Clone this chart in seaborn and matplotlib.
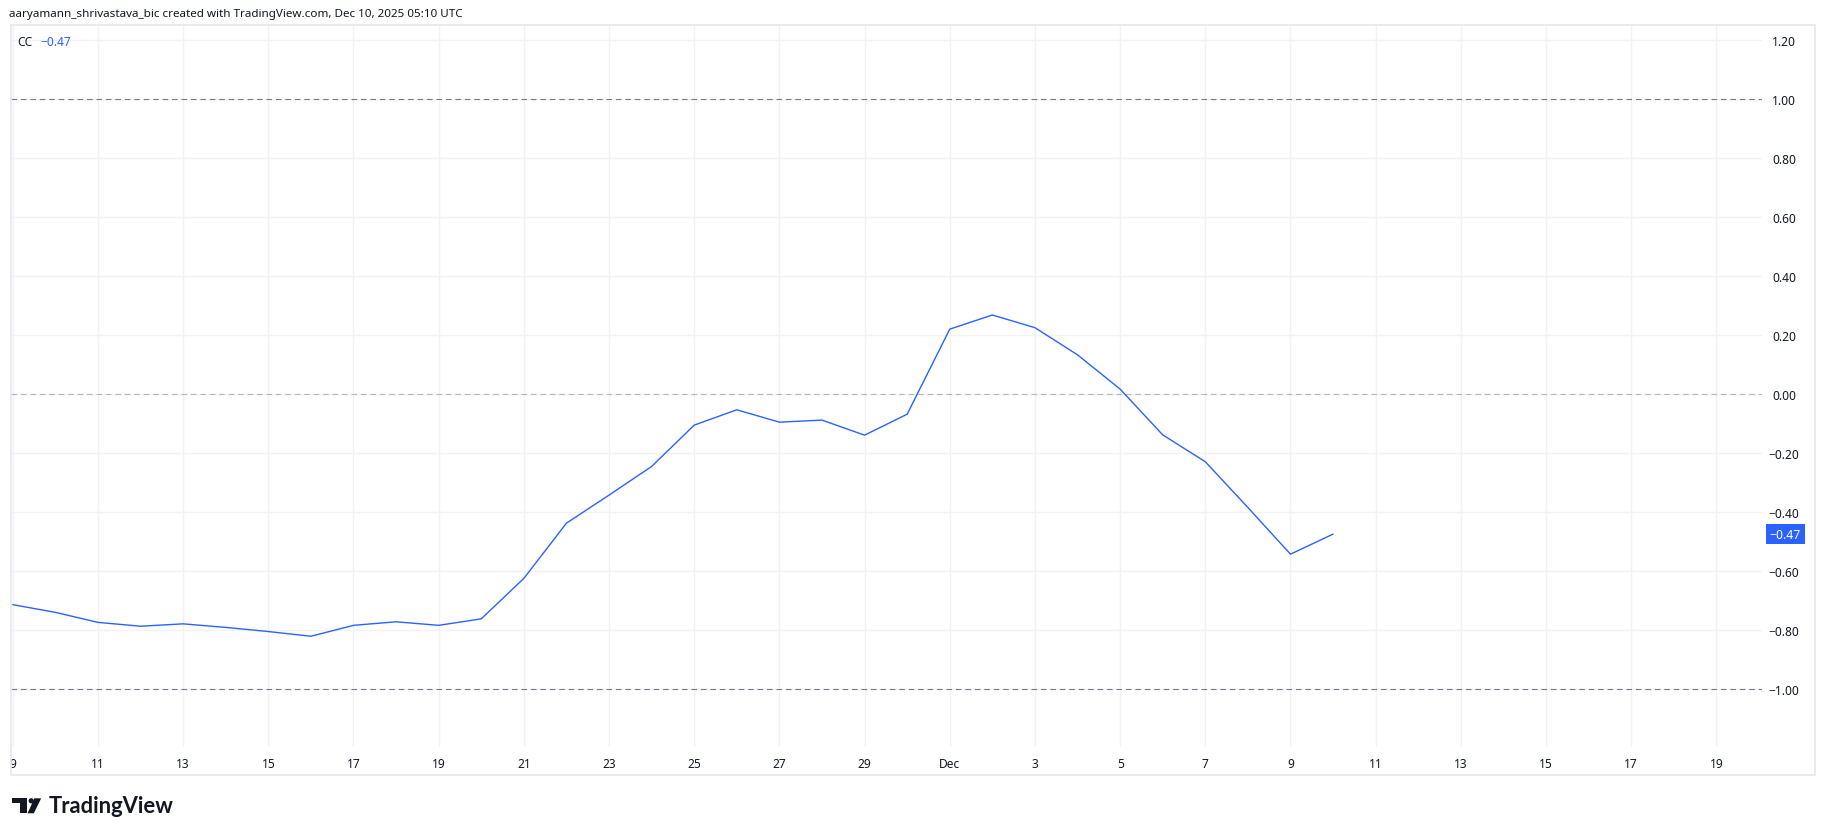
import matplotlib
matplotlib.use("Agg")
import matplotlib.pyplot as plt
import matplotlib.dates as mdates
from matplotlib.ticker import FuncFormatter
from matplotlib.patches import Rectangle, Polygon, Circle
from matplotlib.transforms import Bbox, TransformedBbox, blended_transform_factory
import pandas as pd
import seaborn as sns

# daily CC readings, Nov 9 -> Dec 10 2025
dates = pd.date_range("2025-11-09", "2025-12-10", freq="D")
cc = [-0.713, -0.739, -0.773, -0.786, -0.778, -0.790, -0.804, -0.820,
      -0.783, -0.771, -0.783, -0.761, -0.624, -0.437, -0.342, -0.245,
      -0.105, -0.053, -0.095, -0.088, -0.139, -0.068,
      0.220, 0.268, 0.225, 0.133, 0.017, -0.138, -0.229, -0.384, -0.542, -0.474]
ytick_vals = [-1.0, -0.8, -0.6, -0.4, -0.2, 0.0, 0.2, 0.4, 0.6, 0.8, 1.0, 1.2]
xtick_dates = ([pd.Timestamp(2025, 11, d) for d in range(9, 30, 2)] +
               [pd.Timestamp(2025, 12, d) for d in range(1, 20, 2)])
level_lines = [1.0, 0.0, -1.0]
header = "aaryamann_shrivastava_bic created with TradingView.com, Dec 10, 2025 05:10 UTC"

BLUE = "#2962FF"
GRID = "#f0f2f6"
TXT = "#131722"

sns.set_theme(style="white")
plt.rcParams['font.family'] = ['Noto Sans', 'DejaVu Sans']
plt.rcParams['lines.scale_dashes'] = False

W, H = 1825, 837
fig = plt.figure(figsize=(W / 100, H / 100), dpi=100)
fig.patch.set_facecolor("white")

ax = fig.add_axes([11 / W, 1 - 748 / H, (1762 - 11) / W, (748 - 26) / H])
df = pd.DataFrame({"date": dates, "cc": cc})
sns.lineplot(data=df, x="date", y="cc", ax=ax, color=BLUE, linewidth=1.0, zorder=5)

for lv in level_lines:
    col = "#b2b5be" if lv == 0 else "#787b86"
    ax.axhline(lv, color=col, linewidth=0.8, linestyle=(0, (4, 2.8)), zorder=3)

ax.set_xlim(pd.Timestamp(2025, 11, 9) - pd.Timedelta(hours=1),
            pd.Timestamp(2025, 12, 20) + pd.Timedelta(hours=1.7))
ax.set_ylim(-1.195, 1.25)
ax.set_xticks(xtick_dates)
ax.xaxis.set_major_formatter(FuncFormatter(
    lambda v, p: "Dec" if mdates.num2date(v).day == 1 else str(mdates.num2date(v).day)))
ax.set_yticks(ytick_vals)
ax.yaxis.set_major_formatter(FuncFormatter(
    lambda v, p: f"{round(v, 2) + 0.0:.2f}".replace("-", "\u2212")))
ax.grid(True, color=GRID, linewidth=1.0)
ax.set_xlabel("")
ax.set_ylabel("")
for s in ax.spines.values():
    s.set_visible(False)
ax.tick_params(axis="y", left=False, right=False, labelleft=False, labelright=True,
               length=0, pad=15.8, labelsize=8.6, labelcolor=TXT)
ax.tick_params(axis="x", bottom=False, length=0, pad=7, labelsize=8.6, labelcolor=TXT)
for lab in ax.get_yticklabels():
    lab.set_horizontalalignment("center")

pane = TransformedBbox(Bbox([[11 / W, 0], [1815 / W, 1]]), fig.transFigure)
for lab in ax.get_xticklabels():
    lab.set_clip_box(pane)
    lab.set_clip_on(True)

# last value badge on the price scale
trans = blended_transform_factory(fig.transFigure, ax.transData)
ax.text(1785.5 / W, cc[-1], f"{cc[-1]:.2f}".replace("-", "\u2212"), transform=trans,
        ha="center", va="center", color="white", fontsize=8.8, fontweight="bold",
        bbox=dict(boxstyle="square,pad=0.3", fc=BLUE, ec="none"), clip_on=False)

# legend-like label
fig.text(17 / W, 1 - 42 / H, "CC", color=TXT, fontsize=8.6, va="center")
fig.text(40 / W, 1 - 42 / H, f"{cc[-1]:.2f}".replace("-", "\u2212"), color=BLUE,
         fontsize=8.6, va="center")
fig.text(9 / W, 1 - 14 / H, header, color=TXT, fontsize=8.4, va="center")

# overlay in pixel coordinates for the frame and the logo
ov = fig.add_axes([0, 0, 1, 1], zorder=10)
ov.set_xlim(0, W)
ov.set_ylim(H, 0)
ov.axis("off")
ov.patch.set_alpha(0)
ov.add_patch(Rectangle((11, 26), 1815 - 11, 776 - 26, fill=False, ec="#e6e8ee", lw=1.2))
ov.add_patch(Polygon([(12.3, 799.3), (26.7, 799.3), (26.7, 814.3), (20, 814.3),
                      (20, 804), (12.3, 804)], closed=True, fc=TXT, ec="none"))
ov.add_patch(Circle((31.2, 801.8), 2.6, fc=TXT, ec="none"))
ov.add_patch(Polygon([(34.3, 799.3), (41.2, 799.3), (33.8, 814.3), (27.6, 814.3)],
                     closed=True, fc=TXT, ec="none"))
ov.text(48.5, 806.5, "TradingView", color=TXT, fontsize=15.8, fontweight="bold",
        family=["Lato", "DejaVu Sans"], va="center", ha="left")

fig.savefig("out.png", dpi=100)
